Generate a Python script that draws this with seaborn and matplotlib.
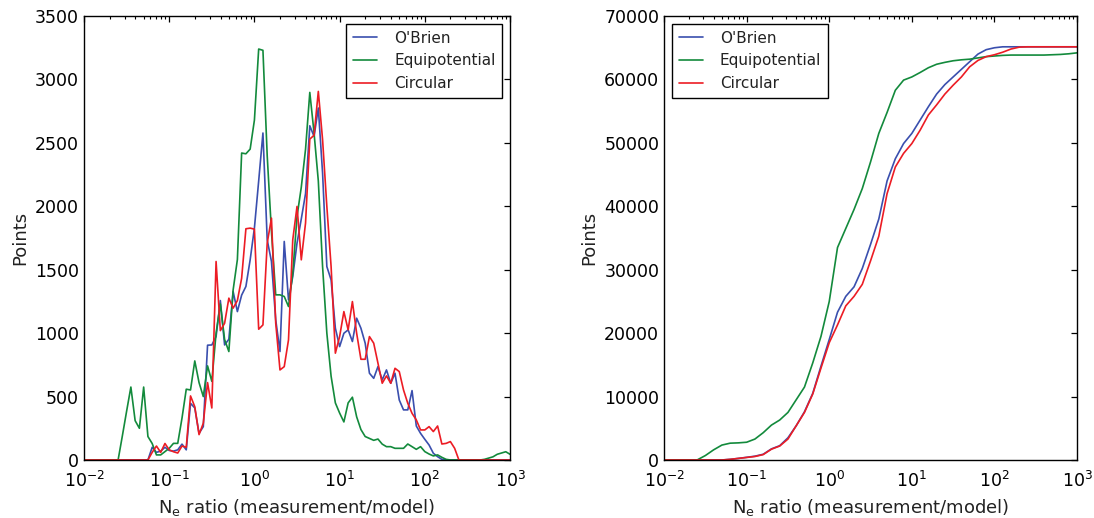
import numpy as np
import pandas as pd
import matplotlib
matplotlib.use("Agg")
import matplotlib.pyplot as plt
import seaborn as sns

# ---------------- data ----------------
# left panel: histogram of Ne ratio in log10 bins (bin centres)
bin_log10 = np.round(np.arange(-2.0, 3.0001, 0.05), 2)

hist_obrien = [
    0, 0, 0, 0, 0, 0, 0, 0, 0, 0,
    0, 0, 0, 0, 0, 0, 100, 60, 70, 100,
    75, 70, 80, 125, 80, 447, 410, 210, 263, 905,
    907, 973, 1257, 907, 952, 1328, 1170, 1300, 1368, 1578,
    1830, 2200, 2578, 1736, 1565, 1105, 855, 1723, 1262, 1447,
    1710, 1900, 2100, 2635, 2551, 2775, 2262, 1525, 1420, 1039,
    894, 999, 1026, 934, 1118, 1039, 921, 684, 644, 736,
    631, 710, 605, 684, 473, 395, 395, 547, 268, 210,
    163, 118, 53, 26, 5, 0, 0, 0, 0, 0,
    0, 0, 0, 0, 0, 0, 0, 0, 0, 0,
    0,
]
hist_equipotential = [
    0, 0, 0, 0, 0, 0, 0, 0, 0, 190,
    385, 575, 310, 250, 575, 185, 130, 40, 40, 66,
    92, 131, 131, 330, 558, 552, 781, 610, 500, 742,
    620, 1000, 1230, 950, 855, 1340, 1580, 2420, 2414, 2451,
    2680, 3240, 3230, 2400, 1800, 1302, 1302, 1289, 1210, 1473,
    1920, 2150, 2450, 2898, 2578, 2200, 1525, 1000, 660, 450,
    370, 300, 450, 495, 340, 240, 185, 170, 155, 165,
    125, 105, 105, 92, 92, 92, 126, 105, 84, 105,
    66, 47, 32, 40, 21, 5, 0, 0, 0, 0,
    0, 0, 0, 0, 5, 15, 25, 45, 55, 65,
    45,
]
hist_circular = [
    0, 0, 0, 0, 0, 0, 0, 0, 0, 0,
    0, 0, 0, 0, 0, 0, 60, 110, 60, 130,
    80, 65, 55, 110, 100, 505, 420, 200, 290, 610,
    410, 1565, 1020, 1078, 1276, 1197, 1257, 1433, 1823, 1828,
    1820, 1031, 1065, 1710, 1907, 1079, 710, 736, 947, 1736,
    1999, 1578, 1868, 2530, 2560, 2906, 2525, 1999, 1525, 842,
    973, 1170, 1026, 1249, 999, 794, 794, 973, 921, 763,
    605, 663, 605, 723, 697, 552, 447, 368, 316, 237,
    237, 263, 224, 268, 126, 131, 145, 92, 0, 0,
    0, 0, 0, 0, 0, 0, 0, 0, 0, 0,
    0,
]

# right panel: cumulative number of points
cum_log10 = np.round(np.arange(-2.0, 3.0001, 0.1), 1)

cum_obrien = [
    0, 0, 0, 0, 0, 0, 0, 0, 100, 250,
    420, 600, 900, 1750, 2250, 3500, 5400, 7600, 10500, 14800,
    19000, 23300, 25800, 27300, 30200, 34000, 38000, 44000, 47500, 49900,
    51500, 53600, 55700, 57700, 59200, 60400, 61600, 62800, 64000, 64700,
    65000, 65150, 65150, 65150, 65150, 65150, 65150, 65150, 65150, 65150,
    65150,
]
cum_equipotential = [
    0, 0, 0, 0, 0, 700, 1600, 2350, 2650, 2700,
    2800, 3300, 4300, 5500, 6300, 7500, 9500, 11500, 15300, 19500,
    25000, 33500, 36500, 39500, 42800, 47000, 51500, 54800, 58300, 59900,
    60400, 61100, 61850, 62400, 62700, 62950, 63100, 63200, 63400, 63600,
    63700, 63800, 63850, 63850, 63850, 63850, 63850, 63900, 63950, 64050,
    64200,
]
cum_circular = [
    0, 0, 0, 0, 0, 0, 0, 0, 100, 250,
    400, 550, 850, 1700, 2200, 3300, 5400, 7500, 10400, 14500,
    18500, 21300, 24300, 25800, 27700, 31400, 35300, 42000, 46200, 48350,
    49900, 52000, 54400, 56000, 57700, 59100, 60400, 62000, 63000, 63600,
    63900, 64300, 64800, 65100, 65150, 65150, 65150, 65150, 65150, 65150,
    65150,
]

series_names = ["O'Brien", "Equipotential", "Circular"]
colors = ["#3a4fae", "#138a3c", "#ec1c24"]

# ---------------- style ----------------
sns.set_style("white")
plt.rcParams.update({
    "font.family": ["DejaVu Sans"],
    "xtick.direction": "in",
    "ytick.direction": "in",
    "xtick.top": True,
    "ytick.right": True,
    "xtick.major.size": 4.5,
    "ytick.major.size": 4.5,
    "xtick.minor.size": 2.5,
    "ytick.minor.size": 2.5,
    "xtick.major.width": 0.9,
    "ytick.major.width": 0.9,
    "xtick.minor.width": 0.8,
    "xtick.color": "black",
    "ytick.color": "black",
    "axes.edgecolor": "black",
    "axes.linewidth": 1.0,
    "xtick.labelsize": 12.5,
    "ytick.labelsize": 12.5,
    "axes.labelsize": 13,
    "text.color": "#222222",
    "axes.labelcolor": "#222222",
})

fig = plt.figure(figsize=(10.94, 5.18), dpi=100)
ax1 = fig.add_axes([0.0768, 0.112, 0.3894, 0.857])
ax2 = fig.add_axes([0.607, 0.112, 0.3775, 0.857])

hist_df = pd.DataFrame({
    "x": np.concatenate([10.0 ** bin_log10] * 3),
    "y": np.concatenate([hist_obrien, hist_equipotential, hist_circular]),
    "model": np.repeat(series_names, len(bin_log10)),
})
cum_df = pd.DataFrame({
    "x": np.concatenate([10.0 ** cum_log10] * 3),
    "y": np.concatenate([cum_obrien, cum_equipotential, cum_circular]),
    "model": np.repeat(series_names, len(cum_log10)),
})

sns.lineplot(data=hist_df, x="x", y="y", hue="model", hue_order=series_names,
             palette=colors, linewidth=1.2, ax=ax1, sort=False)
sns.lineplot(data=cum_df, x="x", y="y", hue="model", hue_order=series_names,
             palette=colors, linewidth=1.2, ax=ax2, sort=False)

for ax, ymax, step, loc in [(ax1, 3500, 500, "upper right"),
                            (ax2, 70000, 10000, "upper left")]:
    ax.set_xscale("log")
    ax.set_xlim(1e-2, 1e3)
    ax.set_ylim(0, ymax)
    ax.set_yticks(np.arange(0, ymax + 1, step))
    ax.set_xlabel(r"N$_\mathrm{e}$ ratio (measurement/model)", labelpad=4)
    ax.set_ylabel("Points")
    for s in ax.spines.values():
        s.set_visible(True)
        s.set_color("black")
    ax.tick_params(which="both", direction="in", top=True, right=True)
    ax.tick_params(axis="x", which="major", pad=8)
    h, l = ax.get_legend_handles_labels()
    leg = ax.legend(h, l, loc=loc, fontsize=11, frameon=True, fancybox=False,
                    framealpha=1, edgecolor="black", handlelength=1.6,
                    borderpad=0.45, labelspacing=0.5, handletextpad=1.1,
                    borderaxespad=0.5)
    leg.get_frame().set_linewidth(1.0)

fig.savefig("out.png", dpi=100)
